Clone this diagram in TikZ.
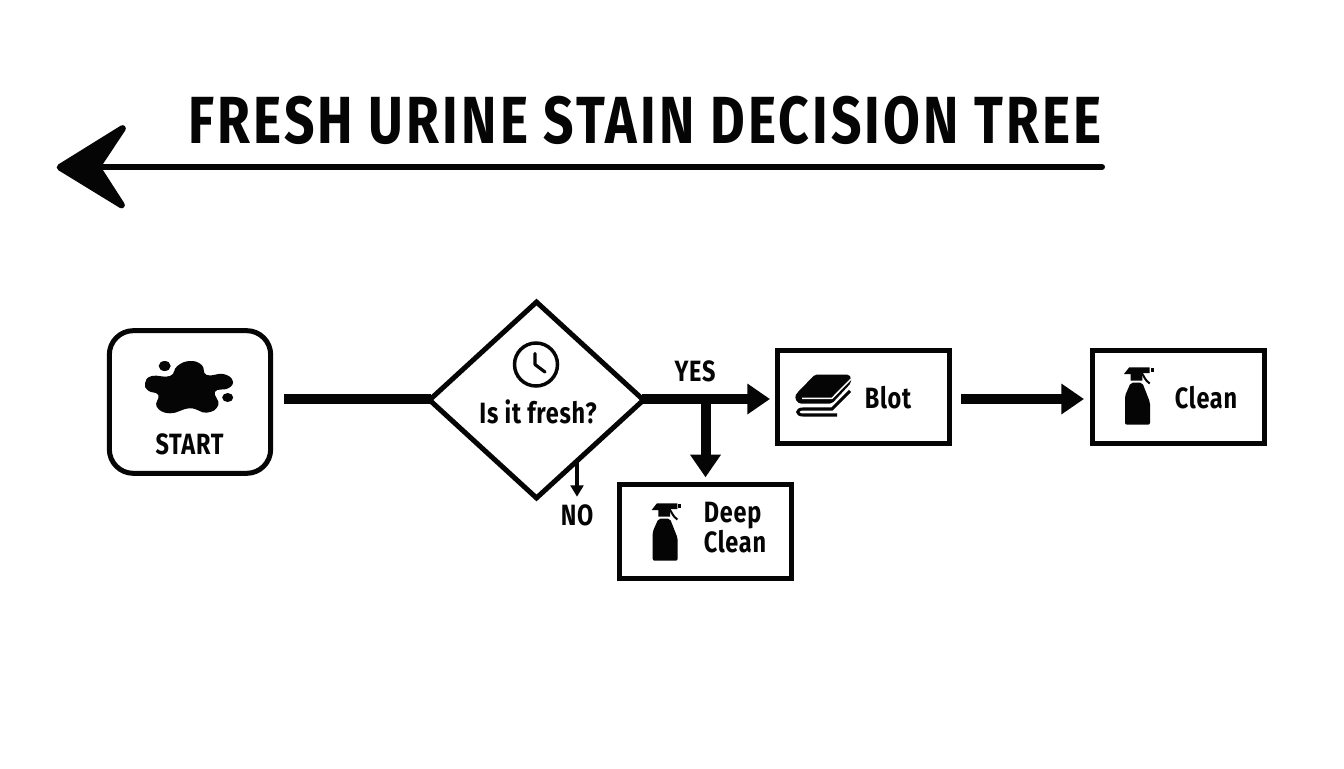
\documentclass[tikz,border=0pt]{standalone}
\usepackage{fontspec}
\setmainfont[FakeStretch=0.80,LetterSpace=2.5]{Fira Sans}
\newfontfamily\titlefont[FakeStretch=0.80,LetterSpace=4.7]{Fira Sans}
\usetikzlibrary{arrows.meta,shapes.geometric}
\definecolor{ink}{HTML}{050505}
\tikzset{
  box/.style={draw=ink,line width=3.75pt,minimum width=129pt,minimum height=70pt,inner sep=0pt},
  startbox/.style={draw=ink,line width=3.75pt,rounded corners=18pt,minimum width=121pt,minimum height=107pt,inner sep=0pt},
  decisionshape/.style={diamond,draw=ink,line width=3.75pt,minimum width=162pt,minimum height=148.5pt,inner sep=0pt},
  lbl/.style={text=ink,font=\bfseries\fontsize{22}{21}\selectfont,inner sep=0pt,align=left},
  flow/.style={draw=ink,line width=7.2pt,-{Triangle[length=17pt,width=22pt]}},
  plainflow/.style={draw=ink,line width=7.5pt},
  thinflow/.style={draw=ink,line width=2.4pt,-{Triangle[length=8.5pt,width=9.5pt]}},
  pics/spray/.style={code={
    \fill[ink,rounded corners=1.5pt] (-6,-12.3) -- (5.6,-12.3) -- (13.3,7.3) -- (13.3,29.7) -- (-11.7,29.7) -- (-11.7,0.7) -- cycle;
    \fill[ink] (-12.7,-21) -- (-7.5,-27.7) -- (13,-27.7) -- (13,-22) -- (5.6,-22) -- (5.6,-14.5) -- (-6,-14.5) -- (-6,-21) -- cycle;
    \draw[ink,line width=1.5pt] (5,-22) .. controls (8,-18) and (8,-15) .. (13,-11.5);
    \fill[ink] (14,-26.7) rectangle (17,-23);
  }}
}
\begin{document}
\begin{tikzpicture}[x=0.75pt,y=-0.75pt]
\useasboundingbox (0,0) rectangle (1344,768);
\fill[white] (0,0) rectangle (1344,768);
% title
\node[text=ink,inner sep=0pt,font=\titlefont\bfseries\fontsize{50}{56}\selectfont] (title) at (645,120) {FRESH URINE STAIN DECISION TREE};
\coordinate (titleend) at (1102,167);
\coordinate (titletip) at (60,167.3);
\coordinate (titleneck) at (97,167);
\draw[ink,line width=4.5pt,line cap=round] (titleend) -- (titleneck);
\fill[ink,draw=ink,line width=5pt,line join=round] (titletip) -- (122.5,128.5) -- (titleneck) -- (121.5,205) -- cycle;
% nodes
\node[startbox] (start) at (190,402) {};
\node[decisionshape] (decision) at (536.5,400) {};
\node[box] (blot) at (863,397) {};
\node[box] (clean) at (1178,397) {};
\node[box] (deep) at (705.5,531.5) {};
% start icon
\fill[ink] plot[smooth cycle,tension=0.8] coordinates {(145,383.3) (151.7,376) (170,376) (177.3,366) (190,361) (201.7,365) (206.7,375) (223.3,374) (232.7,380.7) (228.3,388.3) (215,391.7) (218.3,405) (206.7,412.7) (190,408.3) (170,413.3) (156.7,406.7) (158.3,395) (148.3,390.7)};
\fill[ink] (164.7,366) ellipse (6 and 5);
\fill[ink] (227.7,397.5) ellipse (5.5 and 4.5);
\node[lbl] (startlabel) at (189.5,444.5) {START};
% clock
\draw[ink,line width=2.6pt] (536,364.5) circle (21.5);
\draw[ink,line width=2.4pt,line cap=round,line join=round] (535,353.5) -- (535,364.5) -- (545,372);
\node[lbl] (freshlabel) at (538,412) {Is it fresh?};
% towels
\fill[ink,rounded corners=1.5pt] (815,374.5) -- (849,374.5) -- (851,377.5) -- (851,383) -- (832,403.5) -- (803,403.5) .. controls (797,403.5) and (794,398) .. (797,393) -- cycle;
\draw[white,line width=1.1pt] (802,398.3) -- (832,398.3) -- (851,379);
\draw[ink,line width=2.3pt] (850,391) -- (832,409) -- (803,409) .. controls (796,409) and (796,415) .. (803,415) -- (837,415);
\node[lbl] (blotlabel) at (888,397.5) {Blot};
\node[lbl] (cleanlabel) at (1206,397.5) {Clean};
\node[lbl] (deeplabel) at (735,527.5) {Deep\\Clean};
\pic at (1136.7,395) {spray};
\pic at (664.4,531) {spray};
% labels
\node[lbl] (yes) at (695,371.5) {YES};
\node[lbl] (no) at (577,515) {NO};
% connectors
\coordinate (branch) at (705.5,399);
\coordinate (nostart) at (577,461);
\coordinate (blotin) at (770,399);
\coordinate (cleanin) at (1084,399);
\coordinate (blotout) at (961,399);
\coordinate (startout) at (284,399);
\coordinate (decin) at (431,399);
\coordinate (decout) at (642,399);
\draw[plainflow] (startout) -- (decin);
\draw[flow] (decout) -- (blotin);
\draw[flow,line width=7.5pt,shorten >=3.75pt] (branch) -- (deep.north);
\draw[flow,line width=7.5pt] (blotout) -- (cleanin);
\draw[thinflow,shorten >=5.5pt] (nostart) -- (no.north);
\end{tikzpicture}
\end{document}
